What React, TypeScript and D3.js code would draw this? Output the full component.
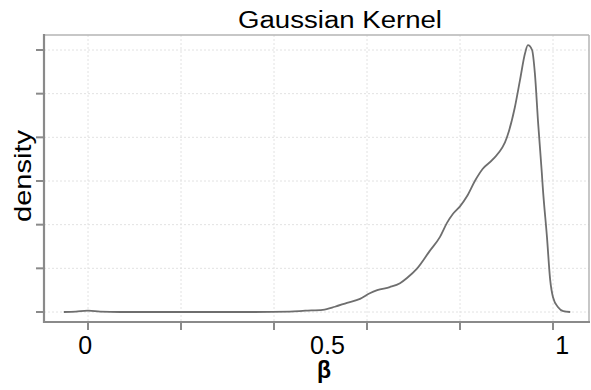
import React from "react";
import * as d3 from "d3";

const width = 591;
const height = 390;
const panel = { left: 44, right: 589, top: 35, bottom: 322 };

// density curve
const betaValues = [
  -0.052, -0.026, 0, 0.026, 0.069, 0.24, 0.35, 0.434, 0.467, 0.505, 0.531, 0.557,
  0.585, 0.606, 0.622, 0.649, 0.671, 0.686, 0.708, 0.735, 0.757, 0.772, 0.785,
  0.8, 0.815, 0.832, 0.849, 0.871, 0.901, 0.918, 0.929, 0.94, 0.946, 0.955,
  0.961, 0.968, 0.976, 0.978, 0.987, 0.994, 1.0, 1.011, 1.022, 1.037,
];
const densityValues = [
  0, 0.01, 0.03, 0.01, 0, 0, 0, 0.01, 0.03, 0.05, 0.12, 0.21,
  0.3, 0.43, 0.5, 0.57, 0.66, 0.78, 1.0, 1.4, 1.72, 2.04, 2.25,
  2.42, 2.65, 3.0, 3.28, 3.5, 4.0, 4.69, 5.31, 5.93, 6.11, 6.0,
  5.47, 4.33, 3.18, 2.86, 1.72, 0.73, 0.34, 0.11, 0.02, 0,
];

const xTicks = [0, 0.2, 0.4, 0.6, 0.8, 1];
const yTicks = [0, 1, 2, 3, 4, 5, 6];
const xTickLabels = ["0", "0.5", "1"];
const xTickLabelAt = [-0.006, 0.515, 1.02];

const font = "'Liberation Sans', Arial, sans-serif";

export default function App() {
  const x = d3.scaleLinear().domain([0, 1]).range([88, 553]);
  const y = d3.scaleLinear().domain([0, 6]).range([312, 50]);

  const points = betaValues.map((b, i) => [b, densityValues[i]] as [number, number]);
  const line = d3
    .line<[number, number]>()
    .x((d) => x(d[0]))
    .y((d) => y(d[1]))
    .curve(d3.curveMonotoneX);

  return (
    <svg
      width={width}
      height={height}
      style={{ position: "absolute", left: 0, top: 0, background: "#fff" }}
    >
      {/* grid */}
      {xTicks.map((t) => (
        <line
          key={"gx" + t}
          x1={x(t)}
          x2={x(t)}
          y1={panel.top}
          y2={panel.bottom}
          stroke="#e2e2e2"
          strokeWidth={1}
          strokeDasharray="2,2"
        />
      ))}
      {yTicks.map((t) => (
        <line
          key={"gy" + t}
          x1={panel.left}
          x2={panel.right}
          y1={y(t)}
          y2={y(t)}
          stroke="#e2e2e2"
          strokeWidth={1}
          strokeDasharray="2,2"
        />
      ))}

      {/* panel frame */}
      <line x1={panel.left} x2={panel.right} y1={panel.top} y2={panel.top} stroke="#b4b4b4" strokeWidth={1.5} />
      <line x1={panel.right} x2={panel.right} y1={panel.top} y2={panel.bottom} stroke="#b4b4b4" strokeWidth={1.5} />
      <line x1={panel.left} x2={panel.left} y1={panel.top - 1} y2={panel.bottom + 1} stroke="#8a8a8a" strokeWidth={2.2} />
      <line x1={panel.left - 1} x2={panel.right + 1} y1={panel.bottom} y2={panel.bottom} stroke="#8a8a8a" strokeWidth={2.2} />

      {/* tick marks */}
      {xTicks.map((t) => (
        <line key={"tx" + t} x1={x(t)} x2={x(t)} y1={panel.bottom} y2={panel.bottom + 8} stroke="#8a8a8a" strokeWidth={2} />
      ))}
      {yTicks.map((t) => (
        <line key={"ty" + t} x1={panel.left - 8} x2={panel.left} y1={y(t)} y2={y(t)} stroke="#8a8a8a" strokeWidth={2} />
      ))}

      {/* density curve */}
      <path d={line(points) ?? ""} fill="none" stroke="#6e6e6e" strokeWidth={1.8} />

      {/* tick labels */}
      {xTickLabels.map((lab, i) => (
        <text
          key={lab}
          x={x(xTickLabelAt[i])}
          y={354}
          textAnchor="middle"
          fontFamily={font}
          fontSize={25}
          fill="#000"
        >
          {lab}
        </text>
      ))}

      {/* titles */}
      <text
        x={340}
        y={28}
        textAnchor="middle"
        fontFamily={font}
        fontSize={23}
        textLength={204}
        lengthAdjust="spacingAndGlyphs"
        fill="#000"
      >
        Gaussian Kernel
      </text>
      <text
        transform="translate(31,176) rotate(-90)"
        textAnchor="middle"
        fontFamily={font}
        fontSize={24}
        textLength={92}
        lengthAdjust="spacingAndGlyphs"
        fill="#000"
      >
        density
      </text>
      <text x={324} y={378} textAnchor="middle" fontFamily={font} fontSize={23} fontWeight="bold" fill="#000">
        β
      </text>
    </svg>
  );
}
